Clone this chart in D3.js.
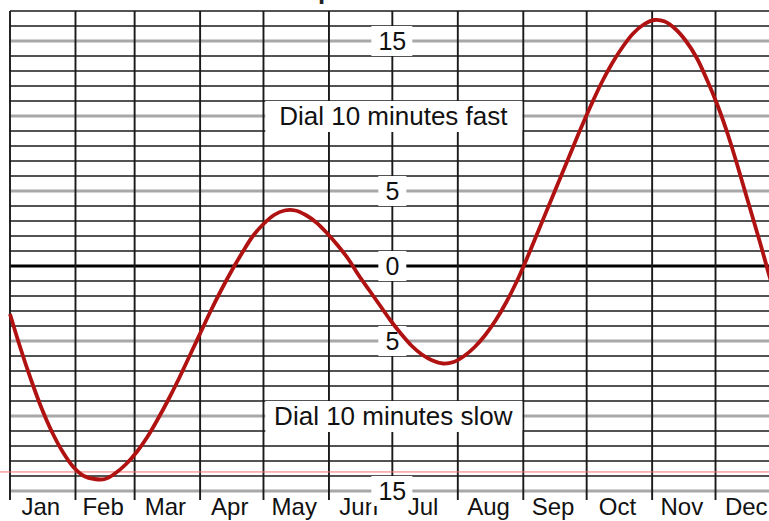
<!DOCTYPE html>
<html>
<head>
<meta charset="utf-8">
<script src="https://cdn.jsdelivr.net/npm/d3@7"></script>
<style>
  html, body { margin: 0; padding: 0; background: #fff; overflow: hidden; }
  svg { display: block; font-family: "Liberation Sans", Arial, sans-serif; }
</style>
</head>
<body>
<div id="chart_div"></div>
<script>
// month labels and the day of year each month starts on
const months = ["Jan", "Feb", "Mar", "Apr", "May", "Jun", "Jul", "Aug", "Sep", "Oct", "Nov", "Dec"];
const monthStarts = [0, 31, 59, 90, 120, 151, 181, 212, 243, 273, 304, 334, 365];

// equation of time (minutes, sundial minus clock)
const eotDays = [0, 5, 10, 15, 20, 25, 30, 35, 40, 45, 50, 55, 60, 65, 70, 75, 80, 85, 90, 95,
    100, 105, 110, 115, 120, 125, 130, 135, 140, 145, 150, 155, 160, 165, 170, 175, 180, 185, 190, 195,
    200, 205, 210, 215, 220, 225, 230, 235, 240, 245, 250, 255, 260, 265, 270, 275, 280, 285, 290, 295,
    300, 305, 310, 315, 320, 325, 330, 335, 340, 345, 350, 355, 360, 365];
const eotMinutes = [-3.2, -5.5, -7.6, -9.5, -11.1, -12.4, -13.4, -14.0, -14.2, -14.2, -13.8, -13.2, -12.4, -11.4, -10.2, -8.9, -7.5, -6.0, -4.5, -3.0,
    -1.6, -0.3, 0.9, 2.0, 2.8, 3.4, 3.7, 3.7, 3.4, 2.9, 2.2, 1.4, 0.5, -0.6, -1.6, -2.6, -3.6, -4.5, -5.3, -5.9,
    -6.3, -6.5, -6.4, -6.0, -5.4, -4.6, -3.6, -2.4, -1.0, 0.6, 2.3, 4.0, 5.7, 7.4, 9.1, 10.7, 12.2, 13.5, 14.6, 15.5,
    16.1, 16.4, 16.3, 15.8, 15.0, 13.9, 12.4, 10.7, 8.7, 6.4, 4.0, 1.6, -0.9, -3.2];

// axis labels (shown without sign) and the two dial notes
const yLabelValues = [15, 5, 0, -5, -15];
const dialNotes = [{v: 10, text: "Dial 10 minutes fast"}, {v: -10, text: "Dial 10 minutes slow"}];
const markerLine = -13.73;

var width = 769, height = 521;
var yMin = -15, yMax = 17;

var svg = d3.select("#chart_div").append("svg")
    .attr("width", width)
    .attr("height", height);

var x = d3.scaleLinear().domain([0, 365]).range([10, 781]);
var y = d3.scaleLinear().domain([yMin, yMax]).range([491, 11]);

// title, mostly above the visible area
svg.append("text")
    .attr("x", 292)
    .attr("y", -1)
    .style("font-size", "26px")
    .style("font-weight", "bold")
    .style("fill", "#222")
    .text("Equation of Time");

// horizontal minute lines
var minutes = d3.range(yMin, yMax + 1);
svg.append("g")
    .selectAll("line")
    .data(minutes)
    .enter()
    .append("line")
    .attr("x1", x(0))
    .attr("x2", width)
    .attr("y1", d => y(d))
    .attr("y2", d => y(d))
    .style("stroke", d => d === 0 ? "#000" : (d % 5 === 0 ? "#a8a8a8" : "#1a1a1a"))
    .style("stroke-width", d => d === 0 ? 3 : (d % 5 === 0 ? 3 : 1.7));

// month boundaries, running a little below the grid as ticks
svg.append("g")
    .selectAll("line")
    .data(monthStarts)
    .enter()
    .append("line")
    .attr("x1", d => x(d))
    .attr("x2", d => x(d))
    .attr("y1", y(yMax))
    .attr("y2", y(yMin) + 9)
    .style("stroke", "#1a1a1a")
    .style("stroke-width", 1.9);

// month names
svg.append("g")
    .selectAll("text")
    .data(months)
    .enter()
    .append("text")
    .attr("x", (d, i) => (x(monthStarts[i]) + x(monthStarts[i + 1])) / 2 - 2)
    .attr("y", 515)
    .attr("text-anchor", "middle")
    .style("font-size", "24px")
    .style("fill", "#111")
    .text(d => d);

// thin red marker line
svg.append("line")
    .attr("x1", 0)
    .attr("x2", width)
    .attr("y1", y(markerLine))
    .attr("y2", y(markerLine))
    .style("stroke", "#f07070")
    .style("stroke-width", 1);

// value labels on the July line, on white boxes
var labelX = x(monthStarts[6]);
var yLabels = svg.append("g")
    .selectAll("g")
    .data(yLabelValues)
    .enter()
    .append("g")
    .attr("transform", d => "translate(" + labelX + "," + y(d) + ")");
yLabels.append("rect")
    .attr("x", d => Math.abs(d) >= 10 ? -21 : -14)
    .attr("y", -15)
    .attr("width", d => Math.abs(d) >= 10 ? 41 : 28)
    .attr("height", 30)
    .style("fill", "#fff");
yLabels.append("text")
    .attr("text-anchor", "middle")
    .attr("dy", "0.36em")
    .style("font-size", "25px")
    .style("fill", "#111")
    .text(d => Math.abs(d));

// dial notes
var notes = svg.append("g")
    .selectAll("g")
    .data(dialNotes)
    .enter()
    .append("g")
    .attr("transform", d => "translate(" + (labelX + 1) + "," + y(d.v) + ")");
notes.append("rect")
    .attr("x", -128)
    .attr("y", -15)
    .attr("width", 257)
    .attr("height", 31)
    .style("fill", "#fff");
notes.append("text")
    .attr("text-anchor", "middle")
    .attr("dy", "0.36em")
    .style("font-size", "26px")
    .style("fill", "#111")
    .text(d => d.text);

// the curve, drawn over the labels
var line = d3.line()
    .x((d, i) => x(eotDays[i]))
    .y(d => y(d))
    .curve(d3.curveCatmullRom);

svg.append("path")
    .datum(eotMinutes)
    .attr("d", line)
    .style("fill", "none")
    .style("stroke", "#b01212")
    .style("stroke-width", 3.8)
    .style("stroke-linejoin", "round");
</script>
</body>
</html>
